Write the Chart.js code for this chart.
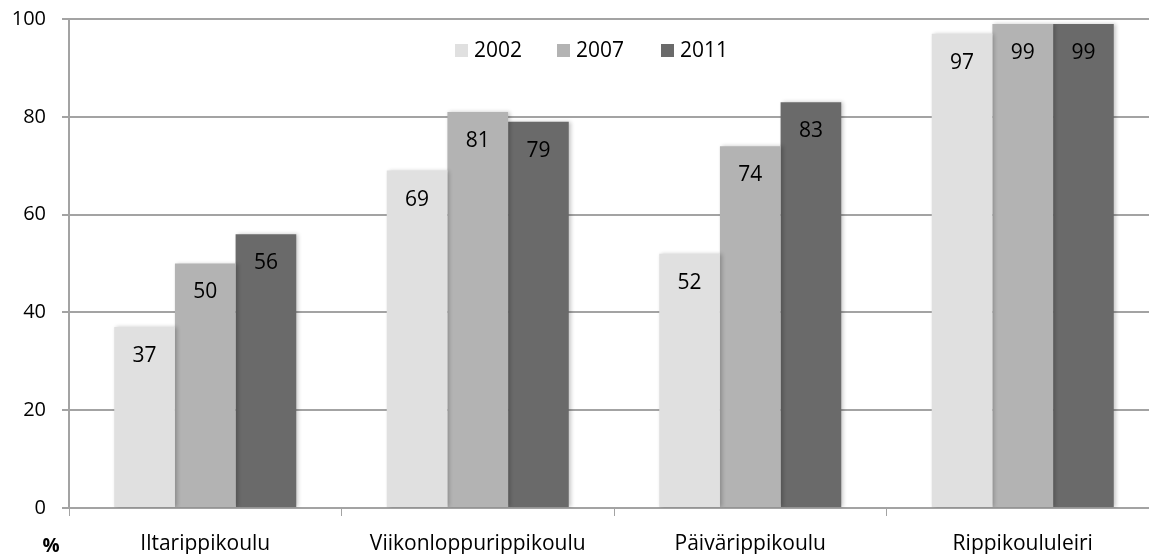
<!DOCTYPE html>
<html>
<head>
<meta charset="utf-8">
<script src="https://cdn.jsdelivr.net/npm/chart.js@4"></script>
<style>
  html, body { margin: 0; padding: 0; background: #fff; overflow: hidden; }
  #wrap { width: 1159px; height: 554px; position: relative; }
</style>
</head>
<body>
<div id="wrap"><canvas id="chart"></canvas></div>
<script>
const categories = ['Iltarippikoulu', 'Viikonloppurippikoulu', 'Päivärippikoulu', 'Rippikoululeiri'];
const years = ['2002', '2007', '2011'];
const values2002 = [37, 69, 52, 97];
const values2007 = [50, 81, 74, 99];
const values2011 = [56, 79, 83, 99];
const yTicks = [0, 20, 40, 60, 80, 100];

const FONT = "'Open Sans', sans-serif";
const GRID = '#a3a3a3';
const COLORS = ['#e0e0e0', '#b3b3b3', '#6a6a6a'];

Chart.defaults.font.family = FONT;
Chart.defaults.color = '#000';

// value labels inside bar tops, legend and the % mark
const decor = {
  id: 'decor',
  beforeDatasetsDraw(chart) {
    const ctx = chart.ctx;
    ctx.save();
    ctx.shadowColor = 'rgba(0,0,0,0.22)';
    ctx.shadowBlur = 4;
    ctx.shadowOffsetX = 2;
  },
  afterDatasetsDraw(chart) {
    const ctx = chart.ctx;
    ctx.restore();
    ctx.save();
    ctx.font = `21px ${FONT}`;
    ctx.fillStyle = '#000';
    ctx.textAlign = 'center';
    ctx.textBaseline = 'middle';
    chart.data.datasets.forEach((ds, i) => {
      chart.getDatasetMeta(i).data.forEach((bar, j) => {
        ctx.fillText(String(ds.data[j]), bar.x, bar.y + 29);
      });
    });
    // legend
    const lx = [455, 557, 661];
    chart.data.datasets.forEach((ds, i) => {
      ctx.fillStyle = ds.backgroundColor;
      ctx.fillRect(lx[i], 44, 13, 13);
      ctx.fillStyle = '#000';
      ctx.textAlign = 'left';
      ctx.fillText(ds.label, lx[i] + 19, 51);
    });
    ctx.font = `bold 19px ${FONT}`;
    ctx.textAlign = 'center';
    ctx.fillText('%', 51, 547);
    ctx.restore();
  }
};

new Chart(document.getElementById('chart'), {
  type: 'bar',
  data: {
    labels: categories,
    datasets: [
      { label: years[0], data: values2002, backgroundColor: COLORS[0] },
      { label: years[1], data: values2007, backgroundColor: COLORS[1] },
      { label: years[2], data: values2011, backgroundColor: COLORS[2] },
    ],
  },
  options: {
    responsive: true, maintainAspectRatio: false, animation: false,
    layout: { padding: { top: 19, right: 0, bottom: 0, left: 0 } },
    datasets: { bar: { categoryPercentage: 0.668, barPercentage: 1.0, borderWidth: 0 } },
    plugins: { legend: { display: false }, tooltip: { enabled: false } },
    scales: {
      x: {
        grid: { display: true, drawOnChartArea: false, color: GRID, tickLength: 8, offset: true },
        border: { color: GRID, width: 2 },
        ticks: { font: { size: 21 }, padding: 15, color: '#000' },
        afterFit: s => { s.height = 46; s.paddingLeft = 0; s.paddingRight = 0; },
      },
      y: {
        min: 0, max: 100,
        afterBuildTicks: s => { s.ticks = yTicks.map(v => ({ value: v })); },
        grid: { color: GRID, lineWidth: 2, tickLength: 7 },
        border: { color: GRID, width: 2 },
        ticks: { font: { size: 20 }, padding: 16, color: '#000' },
        afterFit: s => { s.width = 69; s.paddingTop = 0; s.paddingBottom = 0; },
      },
    },
  },
  plugins: [decor],
});
</script>
</body>
</html>
